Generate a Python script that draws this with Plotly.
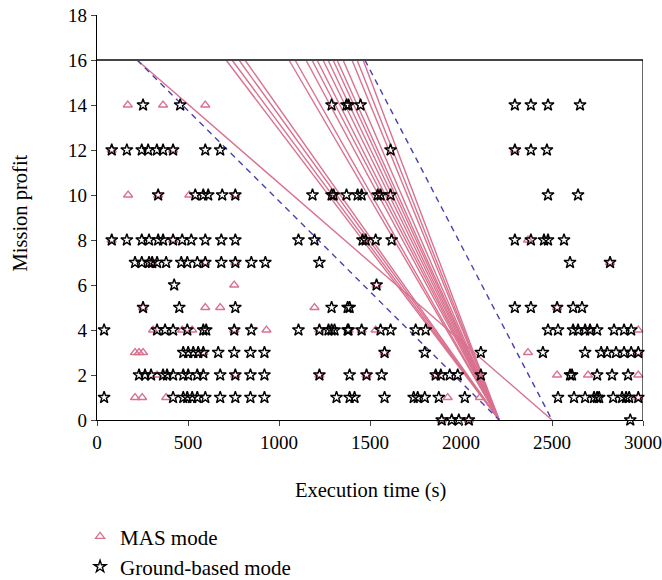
import plotly.graph_objects as go

# ---------------- data ----------------
# Ground-based mode (stars): execution time (s) per mission profit level
gb_rows = {
    14: [253, 457, 1289, 1371, 1382, 1448, 2296, 2384, 2478, 2654],
    12: [81, 164, 246, 281, 329, 363, 418, 595, 677, 1613, 2296, 2384, 2472],
    10: [336, 540, 584, 611, 688, 760, 1184, 1289, 1300, 1371, 1432, 1454, 1542, 1558, 1613, 2478, 2643],
    8: [81, 164, 246, 286, 336, 363, 418, 468, 518, 595, 683, 760, 1107, 1195, 1459, 1476, 1531, 1619,
        2296, 2384, 2456, 2478, 2566],
    7: [209, 246, 286, 303, 330, 380, 463, 496, 551, 595, 683, 760, 848, 925, 1222, 2599, 2819],
    6: [424, 1536],
    5: [253, 452, 760, 1289, 1377, 1388, 2296, 2384, 2528, 2616, 2665],
    4: [39, 330, 374, 418, 496, 584, 600, 754, 848, 1107, 1222, 1272, 1289, 1305, 1377, 1382, 1454, 1558,
        1613, 1751, 1806, 2478, 2533, 2616, 2643, 2682, 2709, 2748, 2841, 2896, 2935],
    3: [474, 501, 529, 556, 584, 666, 754, 843, 920, 1580, 1801, 2109, 2450, 2682, 2770, 2803, 2852,
        2896, 2935, 2974],
    2: [231, 264, 297, 363, 385, 418, 474, 501, 551, 584, 677, 760, 843, 920, 1222, 1388, 1481, 1564,
        1861, 1889, 1938, 1982, 2109, 2599, 2610, 2748, 2830, 2918],
    1: [39, 418, 474, 496, 523, 551, 595, 677, 760, 843, 920, 1316, 1388, 1415, 1580, 1740, 1762, 1801,
        1878, 2021, 2533, 2621, 2682, 2731, 2748, 2759, 2836, 2885, 2907, 2924, 2974],
    0: [1894, 1949, 1988, 2043, 2930],
}

# MAS mode (triangles)
mas_rows = {
    14: [169, 363, 595],
    12: [81, 418, 2296],
    10: [171, 336, 507, 760],
    8: [81, 418, 2368],
    7: [303, 595, 760, 2819],
    6: [754, 1536],
    5: [253, 595, 677, 1195, 2528],
    4: [308, 468, 523, 754, 931, 1222, 1382, 1454, 1531, 2709, 2974],
    3: [209, 231, 253, 584, 1580, 2368, 2974],
    2: [330, 760, 1222, 1481, 1861, 2528, 2698, 2974],
    1: [209, 248, 380, 1927, 2104, 2974],
    0: [1894, 2043],
}

# Pink trajectory lines: start times at profit 16, all converging at (2210, 0)
pink_starts = [709, 742, 780, 813, 1055, 1088, 1148, 1181, 1209, 1242, 1269, 1297, 1319, 1352,
               1401, 1429, 1462]
pink_top = 16
pink_end = 2210
# one extra pink line from (220, 16) to (2500, 0)
pink_extra = ([220, 2500], [16, 0])

# Blue dashed boundary lines
blue_a = ([220, 2210], [16, 0])
blue_b = ([1472, 2500], [16, 0])

x_ticks = [0, 500, 1000, 1500, 2000, 2500, 3000]
y_ticks = [0, 2, 4, 6, 8, 10, 12, 14, 16, 18]

PINK = "#d9718f"
BLUE = "#4a3fb0"
FONT = "Liberation Serif"

def flatten(rows):
    xs, ys = [], []
    for y, vals in rows.items():
        for v in vals:
            xs.append(v)
            ys.append(y)
    return xs, ys

fig = go.Figure()

# pink lines
lx, ly = [], []
for s in pink_starts:
    lx += [s, pink_end, None]
    ly += [pink_top, 0, None]
lx += pink_extra[0] + [None]
ly += pink_extra[1] + [None]
fig.add_trace(go.Scatter(x=lx, y=ly, mode="lines", line=dict(color=PINK, width=1.4),
                         showlegend=False, hoverinfo="skip"))

# blue dashed lines
bx = blue_a[0] + [None] + blue_b[0]
by = blue_a[1] + [None] + blue_b[1]
fig.add_trace(go.Scatter(x=bx, y=by, mode="lines", line=dict(color=BLUE, width=1.4, dash="6px,5px"),
                         showlegend=False, hoverinfo="skip"))

mx, my = flatten(mas_rows)
fig.add_trace(go.Scatter(x=mx, y=my, mode="markers", name="MAS mode",
                         marker=dict(symbol="triangle-up-open", size=8, color=PINK,
                                     line=dict(width=1.3, color=PINK)),
                         cliponaxis=False))

gx, gy = flatten(gb_rows)
fig.add_trace(go.Scatter(x=gx, y=gy, mode="markers", name="Ground-based mode",
                         marker=dict(symbol="star-open", size=9, color="black",
                                     line=dict(width=1.4, color="black")),
                         cliponaxis=False))

# frame at profit 16 and at 3000 s
fig.add_shape(type="line", xref="x", yref="y", x0=0, x1=3000, y0=16, y1=16,
              line=dict(color="#444444", width=2), layer="above")
fig.add_shape(type="line", xref="x", yref="y", x0=3000, x1=3000, y0=0, y1=16,
              line=dict(color="black", width=1.2), layer="above")

# axis titles as annotations
fig.add_annotation(text="Execution time (s)", xref="paper", yref="paper", x=0.5, y=-0.175,
                   xanchor="center", yanchor="middle", showarrow=False,
                   font=dict(family=FONT, size=20.5, color="black"))
fig.add_annotation(text="Mission profit", xref="paper", yref="paper", x=-0.141, y=0.51,
                   xanchor="center", yanchor="middle", showarrow=False, textangle=-90,
                   font=dict(family=FONT, size=20.5, color="black"))

fig.update_layout(
    width=662, height=580,
    margin=dict(l=97, r=19, t=15, b=160, autoexpand=False),
    paper_bgcolor="white", plot_bgcolor="white",
    font=dict(family=FONT, size=19, color="black"),
    showlegend=True,
    legend=dict(x=-0.031, y=-0.2375, xanchor="left", yanchor="top",
                orientation="v", font=dict(family=FONT, size=21),
                bgcolor="rgba(0,0,0,0)", itemsizing="trace", itemwidth=30),
    xaxis=dict(range=[0, 3000], tickvals=x_ticks, ticks="outside", ticklen=5,
               showline=True, linecolor="black", linewidth=1.2, showgrid=False,
               zeroline=False, automargin=False, ticklabeloverflow="allow",
               tickfont=dict(family=FONT, size=19)),
    yaxis=dict(range=[0, 18], tickvals=y_ticks, ticks="outside", ticklen=5,
               showline=True, linecolor="black", linewidth=1.2, showgrid=False,
               zeroline=False, automargin=False, ticklabeloverflow="allow",
               tickfont=dict(family=FONT, size=19)),
)

fig.write_html("out.html", config={"displayModeBar": False},
               post_script="document.body.style.margin='0px';")
